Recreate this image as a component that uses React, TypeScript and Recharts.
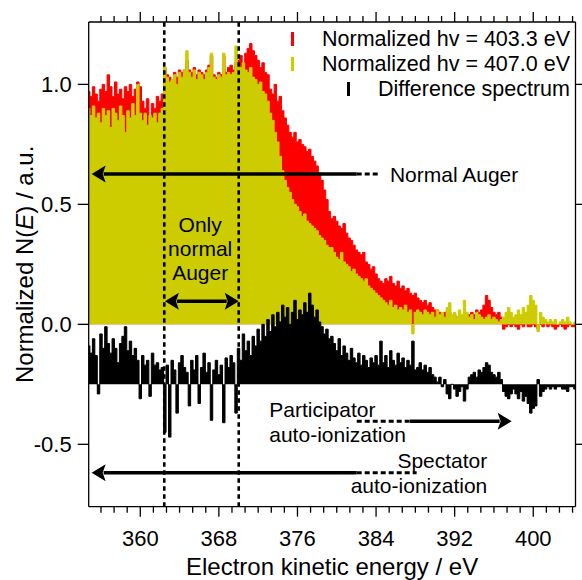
import React from "react";
import {
  ComposedChart,
  Area,
  XAxis,
  YAxis,
  ReferenceLine,
  ReferenceDot,
  Legend,
} from "recharts";

const FONT = '"Liberation Sans", Arial, sans-serif';
const RED = "#FF0000";
const YELLOW = "#CCCC00";
const BLACK = "#000000";

// spectra on a 0.25 eV grid starting at 354.75 eV
const E_START = 354.75;
const E_STEP = 0.25;
const DIFF_OFFSET = -0.25;

const red = [
  0.97, 0.95, 0.99, 0.96, 0.93, 0.98, 1.0, 0.97, 1.04, 0.99, 0.95, 1.01, 0.96, 0.98, 0.94, 0.99, 0.97, 1.0, 0.95, 0.98,
  1.01, 0.99, 0.93, 0.9, 0.94, 0.87, 0.92, 0.9, 0.95, 0.93, 0.96, 1.07, 1.04, 1.03, 1.02, 1.05, 1.03, 1.06, 1.05, 1.06,
  1.1, 1.06, 1.05, 1.07, 1.04, 1.06, 1.05, 1.04, 1.06, 1.08, 1.12, 1.04, 1.03, 1.05, 1.04, 1.12, 1.05, 1.07, 1.08, 1.06,
  1.09, 1.1, 1.12, 1.09, 1.13, 1.15, 1.17, 1.14, 1.12, 1.1, 1.07, 1.09, 1.05, 1.04, 0.98, 0.96, 1.0, 0.93, 0.95, 0.89,
  0.86, 0.83, 0.8, 0.78, 0.8, 0.76, 0.77, 0.75, 0.74, 0.72, 0.73, 0.7, 0.68, 0.66, 0.63, 0.6, 0.56, 0.52, 0.47, 0.44,
  0.45, 0.43, 0.41, 0.4, 0.42, 0.38, 0.36, 0.35, 0.33, 0.31, 0.3, 0.29, 0.3, 0.26, 0.25, 0.23, 0.24, 0.21, 0.19, 0.18,
  0.17, 0.19, 0.18, 0.2, 0.17, 0.16, 0.18, 0.15, 0.16, 0.14, 0.15, 0.13, 0.12, 0.13, 0.11, 0.1, 0.09, 0.1, 0.08, 0.09,
  0.07, 0.06, 0.06, 0.05, 0.04, 0.05, 0.04, 0.05, 0.03, 0.04, 0.03, 0.02, 0.03, 0.04, 0.03, 0.04, 0.05, 0.04, 0.06, 0.05,
  0.06, 0.08, 0.12, 0.1, 0.07, 0.05, 0.04, 0.05, 0.03, -0.02, -0.01, 0.0, -0.01, 0.0, -0.01, -0.02, 0.0, -0.01, 0.01, -0.01,
  -0.01, 0.0, -0.01, -0.02, 0.0, -0.01, 0.01, -0.01, 0.0, -0.01, -0.02, -0.01, 0.0, -0.01, -0.02, -0.01, 0.0, -0.01, -0.01,
];

const yellow = [
  0.9, 0.87, 0.91, 0.86, 0.88, 0.84, 0.9, 0.87, 0.89, 0.82, 0.9, 0.88, 0.85, 0.91, 0.87, 0.8, 0.89, 0.86, 0.92, 0.87,
  1.0, 0.88, 0.85, 0.88, 0.83, 0.87, 0.86, 0.88, 0.84, 0.88, 0.9, 1.07, 1.03, 1.01, 1.02, 1.04, 1.0, 1.05, 1.03, 1.06,
  1.14, 1.05, 1.03, 1.06, 1.02, 1.05, 1.04, 1.02, 1.05, 1.07, 1.13, 1.03, 1.02, 1.04, 1.03, 1.13, 1.04, 1.05, 1.04, 1.05,
  1.16, 1.08, 1.07, 1.09, 1.06, 1.05, 1.07, 1.03, 1.02, 1.0, 1.01, 0.97, 0.96, 0.93, 0.88, 0.85, 0.8, 0.76, 0.7, 0.64,
  0.6, 0.57, 0.55, 0.52, 0.5, 0.49, 0.47, 0.45, 0.46, 0.43, 0.42, 0.41, 0.4, 0.39, 0.37, 0.36, 0.35, 0.33, 0.32, 0.32,
  0.3, 0.28, 0.27, 0.3, 0.26, 0.25, 0.24, 0.22, 0.23, 0.21, 0.2, 0.19, 0.18, 0.19, 0.16, 0.15, 0.14, 0.13, 0.12, 0.11,
  0.1, 0.09, 0.08, 0.1, 0.07, 0.08, 0.06, 0.07, 0.06, 0.08, 0.05, 0.06, -0.04, 0.05, 0.06, 0.05, 0.04, 0.06, 0.05, 0.04,
  0.05, 0.03, 0.06, 0.04, 0.05, 0.03, 0.07, 0.09, 0.04, 0.05, 0.03, 0.06, 0.04, 0.1, 0.05, 0.03, 0.04, 0.02, 0.05, 0.04,
  0.03, 0.02, 0.03, 0.04, 0.02, 0.03, 0.02, 0.01, 0.02, 0.03, 0.05, 0.07, 0.05, 0.03, 0.04, 0.06, 0.04, 0.07, 0.05, 0.08,
  0.12, 0.1, 0.08, -0.03, 0.05, 0.03, 0.02, 0.01, 0.02, 0.01, 0.02, 0.0, 0.01, 0.02, 0.01, 0.03, 0.01, 0.0, 0.01,
];

const diff = [
  0.16, 0.13, 0.19, 0.12, -0.04, 0.21, 0.15, 0.24, 0.17, 0.13, 0.19, 0.15, 0.09, 0.17, 0.2, 0.24, 0.14, 0.18, 0.12, 0.15,
  0.1, -0.06, 0.12, 0.08, 0.1, -0.05, 0.13, 0.08, 0.09, 0.06, 0.07, -0.2, 0.08, -0.22, 0.1, 0.06, -0.12, 0.09, 0.12, 0.07,
  0.05, -0.09, 0.1, 0.06, 0.12, -0.08, 0.07, 0.13, 0.05, 0.09, -0.15, 0.06, 0.1, 0.04, 0.08, -0.16, 0.11, 0.07, 0.12, 0.09,
  -0.12, 0.15, 0.1, 0.21, 0.14, 0.18, 0.12, 0.2, 0.16, 0.23, 0.18, 0.25, 0.2, 0.27, 0.22, 0.29, 0.24, 0.3, 0.26, 0.33,
  0.28, 0.32, 0.25, 0.3, 0.35, 0.27, 0.31, 0.29, 0.34, 0.3, 0.38, 0.33, 0.28, 0.31, 0.26, 0.24, 0.21, 0.23, 0.19, 0.2,
  0.17, 0.14, 0.19, 0.12, 0.16, 0.13, 0.1, 0.15, 0.11, 0.09, 0.13, 0.08, 0.12, 0.1, 0.07, 0.11, 0.09, 0.12, 0.08, 0.18,
  0.09, 0.12, 0.07, 0.14, 0.1, 0.08, 0.13, 0.09, 0.11, 0.07, 0.1, 0.08, 0.18, 0.06, 0.07, 0.09, 0.06, 0.08, 0.05, 0.07,
  0.04, 0.03, 0.01, 0.03, -0.01, 0.02, -0.04, -0.06, 0.0, -0.02, -0.05, -0.03, -0.01, -0.07, -0.02, 0.03, 0.04, 0.05, 0.03, 0.06,
  0.05, 0.07, 0.09, 0.08, 0.05, 0.04, 0.03, 0.05, 0.02, -0.03, -0.05, -0.06, -0.04, -0.02, -0.04, -0.06, -0.03, -0.07, -0.05, -0.08,
  -0.12, -0.1, -0.09, 0.02, -0.05, -0.03, -0.02, -0.01, -0.02, -0.01, -0.02, -0.01, -0.01, -0.02, -0.02, -0.03, -0.01, -0.01, -0.02,
];

const energy = red.map((_, i) => E_START + i * E_STEP);

const xMajor = [360, 368, 376, 384, 392, 400];
const yTicks = [-0.5, 0, 0.5, 1.0];
const X_DOMAIN: [number, number] = [354.75, 404.3];
const Y_DOMAIN: [number, number] = [-0.76, 1.26];

// 6 minor intervals per 8 eV major step
const xTicks: number[] = [];
for (let k = -3; k <= 33; k++) xTicks.push(360 + (4 * k) / 3);

const legendItems = [
  { label: "Normalized hv = 403.3 eV", color: RED },
  { label: "Normalized hv = 407.0 eV", color: YELLOW },
  { label: "Difference spectrum", color: BLACK },
];

const dottedX = [362.44, 370.02];

// annotation arrows: solid part (with heads) and dotted part
const arrowSolid = [
  { y: 0.627, x1: 355.05, x2: 382.03, heads: ["start"] },
  { y: 0.096, x1: 362.51, x2: 370.02, heads: ["start", "end"] },
  { y: -0.404, x1: 387.45, x2: 397.8, heads: ["end"] },
  { y: -0.619, x1: 355.05, x2: 382.03, heads: ["start"] },
];
const arrowDotted = [
  { y: 0.627, x1: 382.03, x2: 384.4 },
  { y: -0.404, x1: 382.03, x2: 387.45 },
  { y: -0.619, x1: 382.03, x2: 388.13 },
];
const notes = [
  { x: 385.41, y: 0.5925, lines: ["Normal Auger"], anchor: "start", gap: 25 },
  { x: 366.1, y: 0.383, lines: ["Only", "normal", "Auger"], anchor: "middle", gap: 24 },
  { x: 373.13, y: -0.386, lines: ["Participator", "auto-ionization"], anchor: "start", gap: 25 },
  { x: 395.32, y: -0.598, lines: ["Spectator", "auto-ionization"], anchor: "end", gap: 25 },
];

const rows = energy.map((e, i) => ({
  e,
  red: red[i],
  yellow: yellow[i],
  diff: DIFF_OFFSET + diff[i],
}));

const isMajorX = (v: number) => xMajor.some((m) => Math.abs(m - v) < 1e-6);

function BottomTick({ x, y, payload }: any) {
  const major = isMajorX(payload.value);
  return (
    <g>
      <line x1={x} x2={x} y1={y} y2={y + (major ? 10 : 6)} stroke={BLACK} strokeWidth={1.3} />
      {major && (
        <text x={x} y={y + 39} textAnchor="middle" fontFamily={FONT} fontSize={22} fill={BLACK}>
          {Math.round(payload.value)}
        </text>
      )}
    </g>
  );
}

function TopTick({ x, y, payload }: any) {
  const major = isMajorX(payload.value);
  return <line x1={x} x2={x} y1={y} y2={y - (major ? 10 : 6)} stroke={BLACK} strokeWidth={1.3} />;
}

function LeftTick({ x, y, payload }: any) {
  return (
    <g>
      <line x1={x - 11} x2={x} y1={y} y2={y} stroke={BLACK} strokeWidth={1.3} />
      <text x={x - 17} y={y + 8} textAnchor="end" fontFamily={FONT} fontSize={22} fill={BLACK}>
        {payload.value.toFixed(1)}
      </text>
    </g>
  );
}

function RightTick({ x, y }: any) {
  return <line x1={x} x2={x + 10} y1={y} y2={y} stroke={BLACK} strokeWidth={1.3} />;
}

function YTitle({ viewBox }: any) {
  const cx = viewBox.x + 33;
  const cy = viewBox.y + viewBox.height / 2;
  return (
    <text
      transform={`translate(${cx},${cy}) rotate(-90)`}
      textAnchor="middle"
      fontFamily={FONT}
      fontSize={24}
      fill={BLACK}
    >
      Normalized N(<tspan fontStyle="italic">E</tspan>) / a.u.
    </text>
  );
}

function XTitle({ viewBox }: any) {
  return (
    <text
      x={viewBox.x + viewBox.width / 2}
      y={viewBox.y + 68.3}
      textAnchor="middle"
      fontFamily={FONT}
      fontSize={24}
      fill={BLACK}
    >
      Electron kinetic energy / eV
    </text>
  );
}

function Note({ viewBox, lines, anchor, gap }: any) {
  const x = viewBox.x + viewBox.width / 2;
  const y = viewBox.y + viewBox.height / 2;
  return (
    <text x={x} y={y} textAnchor={anchor} fontFamily={FONT} fontSize={21} fill={BLACK}>
      {lines.map((l: string, i: number) => (
        <tspan key={l} x={x} dy={i === 0 ? 0 : gap}>
          {l}
        </tspan>
      ))}
    </text>
  );
}

function arrowShape(heads: string[]) {
  return (p: any) => {
    const { x1, y1, x2, y2 } = p;
    const L = 14;
    const H = 8.5;
    const sx = heads.includes("start") ? x1 + L - 2 : x1;
    const ex = heads.includes("end") ? x2 - L + 2 : x2;
    return (
      <g>
        <line x1={sx} y1={y1} x2={ex} y2={y2} stroke={BLACK} strokeWidth={3.5} />
        {heads.includes("start") && (
          <polygon
            points={`${x1},${y1} ${x1 + L},${y1 - H} ${x1 + L - 3},${y1} ${x1 + L},${y1 + H}`}
            fill={BLACK}
          />
        )}
        {heads.includes("end") && (
          <polygon
            points={`${x2},${y2} ${x2 - L},${y2 - H} ${x2 - L + 3},${y2} ${x2 - L},${y2 + H}`}
            fill={BLACK}
          />
        )}
      </g>
    );
  };
}

function LegendBox() {
  return (
    <div
      style={{
        display: "flex",
        flexDirection: "column",
        alignItems: "flex-end",
        fontFamily: FONT,
        fontSize: 21.5,
        lineHeight: "25px",
        color: BLACK,
      }}
    >
      {legendItems.map((it) => (
        <div key={it.label} style={{ display: "flex", alignItems: "center", whiteSpace: "nowrap" }}>
          <span style={{ width: 3, height: 14, background: it.color, marginRight: 28 }} />
          <span>{it.label}</span>
        </div>
      ))}
    </div>
  );
}

export default function App() {
  return (
    <div style={{ position: "absolute", left: 0, top: 0, width: 582, height: 580, background: "#fff" }}>
      <ComposedChart width={582} height={580} data={rows} margin={{ top: 0, right: 0, bottom: 0, left: 0 }}>
        <XAxis
          dataKey="e"
          type="number"
          domain={X_DOMAIN}
          allowDataOverflow
          ticks={xTicks}
          interval={0}
          height={73.3}
          tickSize={0}
          tickMargin={0}
          tickLine={false}
          tick={<BottomTick />}
          axisLine={{ stroke: BLACK, strokeWidth: 1.3 }}
          label={<XTitle />}
        />
        <XAxis
          xAxisId="top"
          orientation="top"
          dataKey="e"
          type="number"
          domain={X_DOMAIN}
          allowDataOverflow
          ticks={xTicks}
          interval={0}
          height={22}
          tickSize={0}
          tickMargin={0}
          tickLine={false}
          tick={<TopTick />}
          axisLine={{ stroke: BLACK, strokeWidth: 1.3 }}
        />
        <YAxis
          type="number"
          domain={Y_DOMAIN}
          allowDataOverflow
          ticks={yTicks}
          interval={0}
          width={88.7}
          tickSize={0}
          tickMargin={0}
          tickLine={false}
          tick={<LeftTick />}
          axisLine={{ stroke: BLACK, strokeWidth: 1.3 }}
          label={<YTitle />}
        />
        <YAxis
          yAxisId="right"
          orientation="right"
          type="number"
          domain={Y_DOMAIN}
          allowDataOverflow
          ticks={yTicks}
          interval={0}
          width={6.5}
          tickSize={0}
          tickMargin={0}
          tickLine={false}
          tick={<RightTick />}
          axisLine={{ stroke: BLACK, strokeWidth: 1.3 }}
        />
        <Area
          dataKey="red"
          type="step"
          stroke={RED}
          strokeWidth={1}
          fill={RED}
          fillOpacity={1}
          baseValue={0}
          dot={false}
          activeDot={false}
          isAnimationActive={false}
        />
        <Area
          dataKey="yellow"
          type="step"
          stroke={YELLOW}
          strokeWidth={1}
          fill={YELLOW}
          fillOpacity={1}
          baseValue={0}
          dot={false}
          activeDot={false}
          isAnimationActive={false}
        />
        <Area
          dataKey="diff"
          type="step"
          stroke={BLACK}
          strokeWidth={1}
          fill={BLACK}
          fillOpacity={1}
          baseValue={DIFF_OFFSET}
          dot={false}
          activeDot={false}
          isAnimationActive={false}
        />
        {dottedX.map((x) => (
          <ReferenceLine key={x} x={x} stroke={BLACK} strokeWidth={2.6} strokeDasharray="4.5 3.5" />
        ))}
        {arrowDotted.map((a, i) => (
          <ReferenceLine
            key={`d${i}`}
            segment={[
              { x: a.x1, y: a.y },
              { x: a.x2, y: a.y },
            ]}
            stroke={BLACK}
            strokeWidth={3}
            strokeDasharray="5 3"
          />
        ))}
        {arrowSolid.map((a, i) => (
          <ReferenceLine
            key={`s${i}`}
            segment={[
              { x: a.x1, y: a.y },
              { x: a.x2, y: a.y },
            ]}
            stroke={BLACK}
            shape={arrowShape(a.heads)}
          />
        ))}
        {notes.map((n) => (
          <ReferenceDot
            key={n.lines[0]}
            x={n.x}
            y={n.y}
            r={0}
            fill="none"
            stroke="none"
            label={<Note lines={n.lines} anchor={n.anchor} gap={n.gap} />}
          />
        ))}
        <Legend
          layout="vertical"
          align="center"
          verticalAlign="middle"
          wrapperStyle={{ left: 0, top: 26.7, width: 570 }}
          content={() => <LegendBox />}
        />
      </ComposedChart>
    </div>
  );
}
